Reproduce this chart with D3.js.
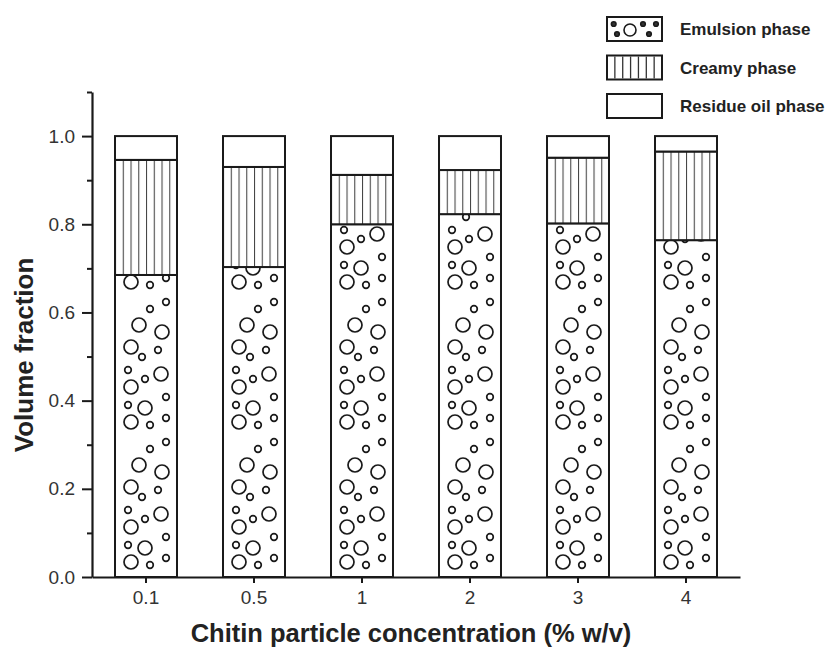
<!DOCTYPE html>
<html>
<head>
<meta charset="utf-8">
<script src="https://cdn.jsdelivr.net/npm/d3@7"></script>
<style>
  html, body { margin: 0; padding: 0; background: #fff; }
  svg { display: block; font-family: "Liberation Sans", Arial, sans-serif; }
</style>
</head>
<body>
<svg id="chart" width="831" height="655"></svg>
<script>
// Concentrations (% w/v) and the volume fraction of each phase
const categories = ["0.1", "0.5", "1", "2", "3", "4"];
const emulsion = [0.685, 0.703, 0.800, 0.823, 0.802, 0.764];
const creamy   = [0.261, 0.227, 0.112, 0.100, 0.149, 0.201];
const residue  = [0.054, 0.070, 0.088, 0.077, 0.049, 0.035];
const phaseKeys = ["emulsion", "creamy", "residue"];
const phaseNames = ["Emulsion phase", "Creamy phase", "Residue oil phase"];
const yTicks = [0, 0.2, 0.4, 0.6, 0.8, 1.0];
const yMinorTicks = [0.1, 0.3, 0.5, 0.7, 0.9, 1.1];

const rows = categories.map((c, i) => ({
  cat: c, emulsion: emulsion[i], creamy: creamy[i], residue: residue[i]
}));

const svg = d3.select("#chart");
const ink = "#1a1a1a";
const axisX = 92;

const x = d3.scaleBand().domain(categories).range([axisX, 740])
  .paddingInner(0.426).paddingOuter(0.213);
const y = d3.scaleLinear().domain([0, 1.1]).range([577, 92]);

const stacked = d3.stack().keys(phaseKeys)(rows);
const defs = svg.append("defs");

// Bubble texture for the emulsion layer: one tile of circles, repeated upward
const tileH = 140;
const bubbles = [
  [16, 15, "L"], [35, 12, "s"], [51, 19, "s"], [30, 29, "L"], [13, 32, "s"],
  [51, 40, "s"], [16, 50, "L"], [46, 63, "L"], [30, 58, "s"], [13, 67, "s"],
  [27, 80, "s"], [43, 87, "s"], [16, 90, "L"], [47, 105, "L"], [24, 112, "L"],
  [35, 128, "s"], [51, 135, "s"]
];

categories.forEach((c, i) => {
  const bw = x.bandwidth();
  const pe = defs.append("pattern")
    .attr("id", "emul-" + i)
    .attr("patternUnits", "userSpaceOnUse")
    .attr("x", x(c)).attr("y", y(0))
    .attr("width", bw).attr("height", tileH);
  pe.append("rect").attr("width", bw).attr("height", tileH).attr("fill", "#fff");
  pe.selectAll("circle").data(bubbles).join("circle")
    .attr("cx", d => d[0] * bw / 62)
    .attr("cy", d => tileH - d[1])
    .attr("r", d => d[2] === "L" ? 7 : 3.3)
    .attr("fill", "none").attr("stroke", ink).attr("stroke-width", 1.7);

  const pc = defs.append("pattern")
    .attr("id", "cream-" + i)
    .attr("patternUnits", "userSpaceOnUse")
    .attr("x", x(c)).attr("y", 0)
    .attr("width", bw / 8).attr("height", 10);
  pc.append("rect").attr("width", bw / 8).attr("height", 10).attr("fill", "#fff");
  pc.append("line").attr("x1", 0.5).attr("x2", 0.5).attr("y1", 0).attr("y2", 10)
    .attr("stroke", "#444").attr("stroke-width", 1.1);
});

function fillFor(key, i) {
  if (key === "emulsion") return `url(#emul-${i})`;
  if (key === "creamy") return `url(#cream-${i})`;
  return "#fff";
}

// Stacked bars
const layers = svg.append("g").selectAll("g").data(stacked).join("g");
layers.selectAll("rect")
  .data((layer) => layer.map((d, i) => ({ key: layer.key, i, y0: d[0], y1: d[1] })))
  .join("rect")
  .attr("x", d => x(categories[d.i]))
  .attr("width", x.bandwidth())
  .attr("y", d => y(d.y1))
  .attr("height", d => y(d.y0) - y(d.y1))
  .attr("fill", d => fillFor(d.key, d.i))
  .attr("stroke", ink)
  .attr("stroke-width", 2);

// Axes
svg.append("g").attr("transform", `translate(${axisX},0)`)
  .call(d3.axisLeft(y).tickValues(yTicks).tickFormat(d3.format(".1f"))
    .tickSize(10).tickPadding(7).tickSizeOuter(0));
svg.append("g").attr("transform", `translate(${axisX},0)`)
  .call(d3.axisLeft(y).tickValues(yMinorTicks).tickFormat("").tickSize(5).tickSizeOuter(0))
  .call(g => g.select(".domain").remove());

svg.append("g").attr("transform", "translate(0,577)")
  .call(d3.axisBottom(x).tickSize(6).tickPadding(8).tickSizeOuter(0));

svg.selectAll(".domain").attr("stroke", ink).attr("stroke-width", 2.2);
svg.selectAll(".tick line").attr("stroke", ink).attr("stroke-width", 2);
svg.selectAll(".tick text").attr("font-size", 19).attr("fill", "#333")
  .attr("font-family", "'Liberation Sans', Arial, sans-serif");

// Axis titles
svg.append("text")
  .attr("transform", "translate(33,355) rotate(-90)")
  .attr("text-anchor", "middle")
  .attr("font-size", 26).attr("font-weight", "bold").attr("fill", "#222")
  .text("Volume fraction");
svg.append("text")
  .attr("x", 411).attr("y", 642)
  .attr("text-anchor", "middle")
  .attr("font-size", 25.5).attr("font-weight", "bold").attr("fill", "#222")
  .text("Chitin particle concentration (% w/v)");

// Legend
const legend = svg.append("g").attr("transform", "translate(607,17)");
const lgItems = legend.selectAll("g").data(phaseNames).join("g")
  .attr("transform", (d, i) => `translate(0,${i * 38.5})`);
lgItems.append("rect")
  .attr("width", 55).attr("height", 24)
  .attr("fill", "#fff").attr("stroke", ink).attr("stroke-width", 2);
lgItems.append("text")
  .attr("x", 73).attr("y", 18)
  .attr("font-size", 17).attr("font-weight", "bold").attr("fill", "#222")
  .text(d => d);

const lgEmul = lgItems.filter((d, i) => i === 0);
[[6.7, 7, 2.3], [10, 17, 2.3], [23, 13, 6], [36, 7, 2.3], [42, 17, 2.3], [49, 7, 2.3]]
  .forEach(([cx, cy, r]) => {
    lgEmul.append("circle").attr("cx", cx).attr("cy", cy).attr("r", r)
      .attr("fill", r < 3 ? "#333" : "none").attr("stroke", ink).attr("stroke-width", 1.6);
  });
const lgCream = lgItems.filter((d, i) => i === 1);
d3.range(1, 7).forEach(k => {
  lgCream.append("line").attr("x1", k * 7.86).attr("x2", k * 7.86)
    .attr("y1", 1).attr("y2", 23).attr("stroke", "#333").attr("stroke-width", 1.3);
});
</script>
</body>
</html>
